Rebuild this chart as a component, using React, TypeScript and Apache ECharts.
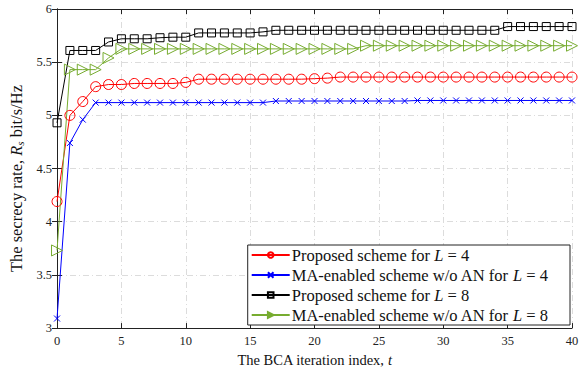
import React, { useEffect, useRef } from "react";
import * as echarts from "echarts";

const tickX = [0, 5, 10, 15, 20, 25, 30, 35, 40];
const tickY = [3, 3.5, 4, 4.5, 5, 5.5, 6];

const proposedL4 = [4.19, 5.0, 5.13, 5.27, 5.29, 5.29, 5.3, 5.3, 5.3, 5.3, 5.31,
  5.34, 5.34, 5.34, 5.34, 5.34, 5.34, 5.34, 5.34, 5.34, 5.345, 5.35,
  5.36, 5.36, 5.36, 5.36, 5.36, 5.36, 5.36, 5.36, 5.36, 5.36, 5.36, 5.36, 5.36, 5.36, 5.36, 5.36, 5.36, 5.36, 5.36];
const maNoAnL4 = [3.09, 4.74, 4.96,
  5.12, 5.12, 5.12, 5.12, 5.12, 5.12, 5.12, 5.12, 5.12, 5.12, 5.12, 5.12, 5.12, 5.12,
  5.135, 5.135, 5.135, 5.135, 5.135, 5.135, 5.135, 5.135, 5.135, 5.135, 5.135,
  5.14, 5.14, 5.14, 5.14, 5.14, 5.14, 5.14, 5.14, 5.14, 5.14, 5.14, 5.14, 5.14];
const proposedL8 = [4.93, 5.61, 5.61, 5.61, 5.69, 5.72, 5.72, 5.72, 5.73, 5.735, 5.735,
  5.775, 5.775, 5.775, 5.775, 5.775, 5.785,
  5.8, 5.8, 5.8, 5.8, 5.8, 5.8, 5.8, 5.8, 5.8, 5.8, 5.8, 5.8, 5.8, 5.8, 5.8, 5.8, 5.8, 5.8,
  5.835, 5.835, 5.835, 5.835, 5.835, 5.835];
const maNoAnL8 = [3.73, 5.43, 5.43, 5.43, 5.54,
  5.625, 5.625, 5.625, 5.625, 5.625, 5.625, 5.625, 5.625, 5.625, 5.625, 5.625, 5.625, 5.625, 5.625, 5.625, 5.625, 5.625, 5.625, 5.625,
  5.655, 5.655, 5.655, 5.655, 5.655, 5.655, 5.655, 5.655, 5.655, 5.655, 5.655, 5.655, 5.655, 5.655, 5.655, 5.655, 5.655];

const seriesNames = [
  "Proposed scheme for {i|L} = 4",
  "MA-enabled scheme w/o AN for {i|L} = 4",
  "Proposed scheme for {i|L} = 8",
  "MA-enabled scheme w/o AN for {i|L} = 8",
];

const FONT = "'Liberation Serif', 'DejaVu Serif', serif";
const crossPath = "path://M0,0L10,10M10,0L0,10";

export default function App() {
  const ref = useRef<HTMLDivElement>(null);
  useEffect(() => {
    const chart = echarts.init(ref.current!, undefined, { renderer: "svg" });
    const toPts = (arr: number[]) => arr.map((v, i) => [i, v]);
    const mk = (name: string, data: number[], color: string, symbol: string, size: number, rotate = 0) => ({
      name,
      type: "line",
      data: toPts(data),
      symbol,
      symbolSize: size,
      symbolRotate: rotate,
      showSymbol: true,
      lineStyle: { color, width: 1 },
      itemStyle: { color: "rgba(255,255,255,0)", borderColor: color, borderWidth: 1 },
      emphasis: { disabled: true },
      z: 3,
    });
    const ax = (fs: number) => ({ i: { fontStyle: "italic", fontFamily: FONT, fontSize: fs, color: "#111" } });
    chart.setOption({
      animation: false,
      backgroundColor: "#fff",
      grid: { left: 52, right: 15, top: 9, bottom: 36, containLabel: false },
      xAxis: [
        {
          type: "value", min: 0, max: 40, interval: 5,
          axisLine: { show: true, lineStyle: { color: "#222", width: 1 } },
          axisTick: { show: true, inside: true, length: 5, lineStyle: { color: "#222" } },
          axisLabel: { fontFamily: FONT, fontSize: 12.5, color: "#222", margin: 6 },
          splitLine: { show: true, lineStyle: { color: "#dcdcdc", type: [6, 3, 1, 3], width: 1 } },
          name: "The BCA iteration index, {i|t}",
          nameLocation: "middle",
          nameGap: 17,
          nameTextStyle: { fontFamily: FONT, fontSize: 14.5, color: "#111", rich: ax(14.5) },
        },
        {
          type: "value", min: 0, max: 40, interval: 5, position: "top",
          axisLine: { show: true, lineStyle: { color: "#222", width: 1 } },
          axisTick: { show: true, inside: true, length: 5, lineStyle: { color: "#222" } },
          axisLabel: { show: false },
          splitLine: { show: false },
        },
      ],
      yAxis: [
        {
          type: "value", min: 3, max: 6, interval: 0.5,
          axisLine: { show: true, lineStyle: { color: "#222", width: 1 } },
          axisTick: { show: true, inside: true, length: 5, lineStyle: { color: "#222" } },
          axisLabel: { fontFamily: FONT, fontSize: 12.5, color: "#222", margin: 5 },
          splitLine: { show: true, lineStyle: { color: "#dcdcdc", type: [6, 3, 1, 3], width: 1 } },
          name: "The secrecy rate, {i|R}{s|s} bit/s/Hz",
          nameLocation: "middle",
          nameGap: 25,
          nameTextStyle: {
            fontFamily: FONT, fontSize: 16.5, color: "#111",
            padding: [0, 20, 0, 0],
            rich: { ...ax(16.5), s: { fontStyle: "italic", fontFamily: FONT, fontSize: 11, color: "#111", verticalAlign: "bottom", padding: [7, 0, 0, 0] } },
          },
        },
        {
          type: "value", min: 3, max: 6, interval: 0.5, position: "right",
          axisLine: { show: true, lineStyle: { color: "#222", width: 1 } },
          axisTick: { show: true, inside: true, length: 5, lineStyle: { color: "#222" } },
          axisLabel: { show: false },
          splitLine: { show: false },
        },
      ],
      legend: {
        orient: "vertical",
        right: 17,
        bottom: 47,
        backgroundColor: "#fff",
        borderColor: "#222",
        borderWidth: 1,
        borderRadius: 0,
        padding: [1, 22, 1, 3],
        itemGap: 2,
        itemWidth: 38,
        itemHeight: 7,
        textStyle: { fontFamily: FONT, fontSize: 16.5, lineHeight: 18, color: "#111", rich: { i: { fontStyle: "italic", fontFamily: FONT, fontSize: 16.5, lineHeight: 18, color: "#111" } }, padding: [0, 0, 0, -3] },
        data: seriesNames,
      },
      series: [
        mk(seriesNames[0], proposedL4, "#ff0000", "circle", 10),
        mk(seriesNames[1], maNoAnL4, "#0000ff", crossPath, 6),
        mk(seriesNames[2], proposedL8, "#000000", "rect", 8),
        mk(seriesNames[3], maNoAnL8, "#77ac30", "triangle", 11, -90),
      ],
    });
    return () => chart.dispose();
  }, []);
  return <div ref={ref} style={{ width: 587, height: 372, position: "absolute", left: 0, top: 0 }} />;
}
